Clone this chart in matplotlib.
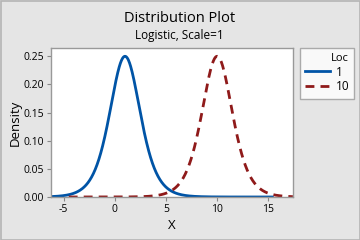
import numpy as np
import matplotlib
matplotlib.use("Agg")
import matplotlib.pyplot as plt
from matplotlib.patches import Rectangle

# Data (parameters)
locs = [1, 10]
scale = 1.0
x_ranges = [(-6.2, 15.4), (-4.5, 17.4)]
legend_labels = ["1", "10"]
xticks = [-5, 0, 5, 10, 15]
yticks = [0.00, 0.05, 0.10, 0.15, 0.20, 0.25]

colors = ["#0054a6", "#8f1a1a"]
styles = ["-", (0, (3.2, 2.2))]

plt.rcParams['font.family'] = ['Open Sans', 'DejaVu Sans']

fig = plt.figure(figsize=(3.6, 2.4), dpi=100)
fig.patch.set_facecolor("#e5e5e5")
fig.patches.append(Rectangle((0.5/360, 0.5/240), 1 - 1/360, 1 - 1/240, transform=fig.transFigure,
                             fill=False, edgecolor="#b4b4b4", linewidth=1.2))

ax = fig.add_axes([51/360, 1 - 197/240, (293 - 51)/360, (197 - 48)/240])
ax.set_facecolor("white")

for loc, (a, b), c, ls, lab in zip(locs, x_ranges, colors, styles, legend_labels):
    x = np.linspace(a, b, 600)
    z = np.exp(-(x - loc) / scale)
    y = z / (scale * (1 + z) ** 2)
    ax.plot(x, y, color=c, linestyle=ls, linewidth=2.0, label=lab)

ax.set_xlim(-6.23, 17.41)
ax.set_ylim(0, 0.2647)
ax.set_xticks(xticks)
ax.set_xticklabels([str(t) for t in xticks])
ax.set_yticks(yticks)
ax.set_yticklabels([f"{t:.2f}" for t in yticks])
ax.tick_params(labelsize=7.5, length=3, width=0.8, color="#888888", pad=2)
for s in ax.spines.values():
    s.set_color("#999999")
    s.set_linewidth(1.0)

ax.set_xlabel("X", fontsize=9.5, labelpad=3)
ax.set_ylabel("Density", fontsize=9.5)
ax.yaxis.set_label_coords(-0.12, 0.5)

fig.text(179.5/360, 1 - 19/240, "Distribution Plot", ha="center", va="center", fontsize=10.5)
fig.text(179.5/360, 1 - 35/240, "Logistic, Scale=1", ha="center", va="center", fontsize=8.5)

leg = fig.legend(loc="upper left", bbox_to_anchor=(300/360, 1 - 47.5/240), title="Loc",
                 fontsize=8.5, title_fontsize=8, frameon=True, fancybox=False,
                 edgecolor="#999999", handlelength=2.1, handletextpad=0.45,
                 borderpad=0.45, labelspacing=0.15, alignment="right",
                 borderaxespad=0)
leg.get_frame().set_linewidth(1.0)

fig.savefig("out.png", dpi=100, facecolor=fig.get_facecolor())
